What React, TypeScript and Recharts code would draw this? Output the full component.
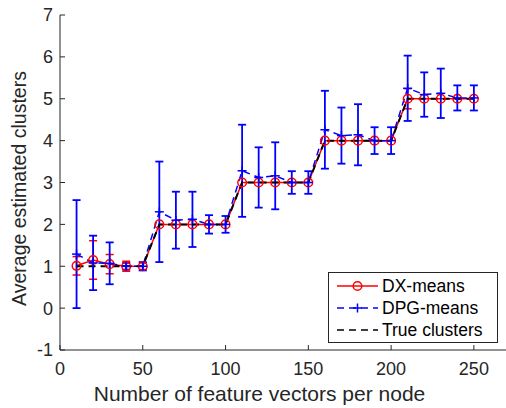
import React from 'react';
import { ComposedChart, Line, XAxis, YAxis, ErrorBar } from 'recharts';

const xValues = [10, 20, 30, 40, 50, 60, 70, 80, 90, 100, 110, 120, 130, 140, 150, 160, 170, 180, 190, 200, 210, 220, 230, 240, 250];
const dxMeans = [1.01, 1.15, 1.05, 1.0, 1.0, 2, 2, 2, 2, 2, 3, 3, 3, 3, 3, 4, 4, 4, 4, 4, 5, 5, 5, 5, 5];
const dxStd = [0.22, 0.46, 0.23, 0.12, 0.08, 0, 0, 0, 0, 0, 0, 0, 0, 0, 0, 0, 0, 0, 0, 0, 0.24, 0, 0, 0, 0];
const dpgMeans = [1.29, 1.08, 1.07, 1.0, 1.0, 2.3, 2.1, 2.12, 2.0, 2.0, 3.28, 3.12, 3.16, 3.0, 3.0, 4.26, 4.12, 4.14, 4.0, 4.0, 5.25, 5.1, 5.13, 5.02, 5.02];
const dpgStd = [1.29, 0.65, 0.5, 0.08, 0.1, 1.2, 0.68, 0.66, 0.22, 0.2, 1.1, 0.72, 0.8, 0.27, 0.27, 0.93, 0.67, 0.73, 0.32, 0.32, 0.78, 0.53, 0.59, 0.3, 0.3];
const trueClusters = [1, 1, 1, 1, 1, 2, 2, 2, 2, 2, 3, 3, 3, 3, 3, 4, 4, 4, 4, 4, 5, 5, 5, 5, 5];
const xTicks = [0, 50, 100, 150, 200, 250];
const yTicks = [-1, 0, 1, 2, 3, 4, 5, 6, 7];
const seriesNames = ['DX-means', 'DPG-means', 'True clusters'];
const xLabel = 'Number of feature vectors per node';
const yLabel = 'Average estimated clusters';

const data = xValues.map((x, i) => ({
  x,
  dx: dxMeans[i],
  dxErr: dxStd[i],
  dpg: dpgMeans[i],
  dpgErr: dpgStd[i],
  truth: trueClusters[i],
}));

const FONT = '"Liberation Sans", Arial, Helvetica, sans-serif';
const AXIS = '#262626';
const TICK_LEN = 5;
const RED = '#ff0000';
const BLUE = '#0000ff';
const TICK_FONT = 18;
const LEGEND_FONT = 17.5;

const BottomTick = (props: any) => {
  const { x, y, payload } = props;
  const axisY = y - 12;
  return (
    <g>
      <line x1={x} x2={x} y1={axisY} y2={axisY - TICK_LEN} stroke={AXIS} strokeWidth={1} />
      <text x={x} y={y} dy="0.71em" textAnchor="middle" fill={AXIS} fontSize={TICK_FONT} fontFamily={FONT}>
        {payload.value}
      </text>
    </g>
  );
};

const TopTick = (props: any) => {
  const { x, y } = props;
  return <line x1={x} x2={x} y1={y} y2={y + TICK_LEN} stroke={AXIS} strokeWidth={1} />;
};

const LeftTick = (props: any) => {
  const { x, y, payload } = props;
  const axisX = x + 7;
  return (
    <g>
      <line x1={axisX} x2={axisX + TICK_LEN} y1={y} y2={y} stroke={AXIS} strokeWidth={1} />
      <text x={x} y={y} dy="0.36em" textAnchor="end" fill={AXIS} fontSize={TICK_FONT} fontFamily={FONT}>
        {payload.value}
      </text>
    </g>
  );
};

const RightTick = (props: any) => {
  const { x, y } = props;
  return <line x1={x} x2={x - TICK_LEN} y1={y} y2={y} stroke={AXIS} strokeWidth={1} />;
};

const CircleDot = (props: any) => {
  const { cx, cy, index } = props;
  if (cx == null || cy == null) return <g key={`c${index}`} />;
  return <circle key={`c${index}`} cx={cx} cy={cy} r={4.3} fill="none" stroke={RED} strokeWidth={1.5} />;
};

const PlusDot = (props: any) => {
  const { cx, cy, index } = props;
  if (cx == null || cy == null) return <g key={`p${index}`} />;
  return (
    <g key={`p${index}`}>
      <line x1={cx - 4.5} x2={cx + 4.5} y1={cy} y2={cy} stroke={BLUE} strokeWidth={1.5} />
      <line x1={cx} x2={cx} y1={cy - 4.5} y2={cy + 4.5} stroke={BLUE} strokeWidth={1.5} />
    </g>
  );
};

const XLabel = (props: any) => {
  const vb = props.viewBox || {};
  const cx = vb.x + vb.width / 2 - 24;
  const by = vb.y + vb.height - 7;
  return (
    <text x={cx} y={by} textAnchor="middle" fill={AXIS} fontSize={21} fontFamily={FONT}>
      {xLabel}
    </text>
  );
};

const YLabel = (props: any) => {
  const vb = props.viewBox || {};
  const cy = vb.y + vb.height / 2 + 6;
  return (
    <text
      transform={`translate(26, ${cy}) rotate(-90)`}
      x={0}
      y={0}
      textAnchor="middle"
      fill={AXIS}
      fontSize={19.5}
      fontFamily={FONT}
    >
      {yLabel}
    </text>
  );
};

const LegendBox = () => (
  <svg
    width={171}
    height={72}
    style={{ position: 'absolute', left: 327.5, top: 271.5, overflow: 'visible' }}
  >
    <rect x={0.5} y={0.5} width={169} height={70} fill="#fff" stroke={AXIS} strokeWidth={1} />
    <line x1={9} x2={50} y1={14} y2={14} stroke={RED} strokeWidth={1.5} />
    <circle cx={29.5} cy={14} r={4.3} fill="none" stroke={RED} strokeWidth={1.5} />
    <text x={54} y={14} dy="0.36em" fontSize={LEGEND_FONT} fontFamily={FONT} fill="#000">{seriesNames[0]}</text>
    <line x1={9} x2={50} y1={36} y2={36} stroke={BLUE} strokeWidth={1.5} strokeDasharray="7 5" />
    <line x1={25} x2={34} y1={36} y2={36} stroke={BLUE} strokeWidth={1.5} />
    <line x1={29.5} x2={29.5} y1={31.5} y2={40.5} stroke={BLUE} strokeWidth={1.5} />
    <text x={54} y={36} dy="0.36em" fontSize={LEGEND_FONT} fontFamily={FONT} fill="#000">{seriesNames[1]}</text>
    <line x1={9} x2={50} y1={58} y2={58} stroke="#000" strokeWidth={1.5} strokeDasharray="7 5" />
    <text x={54} y={58} dy="0.36em" fontSize={LEGEND_FONT} fontFamily={FONT} fill="#000">{seriesNames[2]}</text>
  </svg>
);

export default function App() {
  return (
    <div
      style={{
        position: 'absolute',
        left: 0,
        top: 0,
        width: 506,
        height: 408,
        overflow: 'hidden',
        background: '#fff',
      }}
    >
      <ComposedChart width={508} height={408} data={data} margin={{ top: 15, right: 1, bottom: 0, left: 0 }}>
        <XAxis
          xAxisId={0}
          dataKey="x"
          type="number"
          domain={[0, 270]}
          allowDataOverflow
          ticks={xTicks}
          interval={0}
          height={58}
          tickSize={0}
          tickMargin={12}
          tick={<BottomTick />}
          axisLine={{ stroke: AXIS, strokeWidth: 1 }}
          label={<XLabel />}
        />
        <XAxis
          xAxisId="top"
          orientation="top"
          dataKey="x"
          type="number"
          domain={[0, 270]}
          allowDataOverflow
          ticks={xTicks}
          interval={0}
          height={0}
          tickSize={0}
          tickMargin={0}
          tick={<TopTick />}
          axisLine={{ stroke: AXIS, strokeWidth: 1 }}
        />
        <YAxis
          yAxisId={0}
          type="number"
          domain={[-1, 7]}
          allowDataOverflow
          ticks={yTicks}
          interval={0}
          width={60}
          tickSize={0}
          tickMargin={7}
          tick={<LeftTick />}
          axisLine={{ stroke: AXIS, strokeWidth: 1 }}
          label={<YLabel />}
        />
        <YAxis
          yAxisId="right"
          orientation="right"
          type="number"
          domain={[-1, 7]}
          allowDataOverflow
          ticks={yTicks}
          interval={0}
          width={0}
          tickSize={0}
          tickMargin={0}
          tick={<RightTick />}
          axisLine={{ stroke: AXIS, strokeWidth: 1 }}
        />
        <Line
          dataKey="dx"
          name={seriesNames[0]}
          stroke={RED}
          strokeWidth={1.5}
          dot={CircleDot}
          activeDot={false}
          isAnimationActive={false}
        >
          <ErrorBar dataKey="dxErr" direction="y" width={4} stroke={RED} strokeWidth={1.5} />
        </Line>
        <Line
          dataKey="dpg"
          name={seriesNames[1]}
          stroke={BLUE}
          strokeWidth={1.5}
          strokeDasharray="7 5"
          dot={PlusDot}
          activeDot={false}
          isAnimationActive={false}
        >
          <ErrorBar dataKey="dpgErr" direction="y" width={4} stroke={BLUE} strokeWidth={1.8} />
        </Line>
        <Line
          dataKey="truth"
          name={seriesNames[2]}
          stroke="#000"
          strokeWidth={2}
          strokeDasharray="7 5"
          dot={false}
          activeDot={false}
          isAnimationActive={false}
        />
      </ComposedChart>
      <LegendBox />
    </div>
  );
}
